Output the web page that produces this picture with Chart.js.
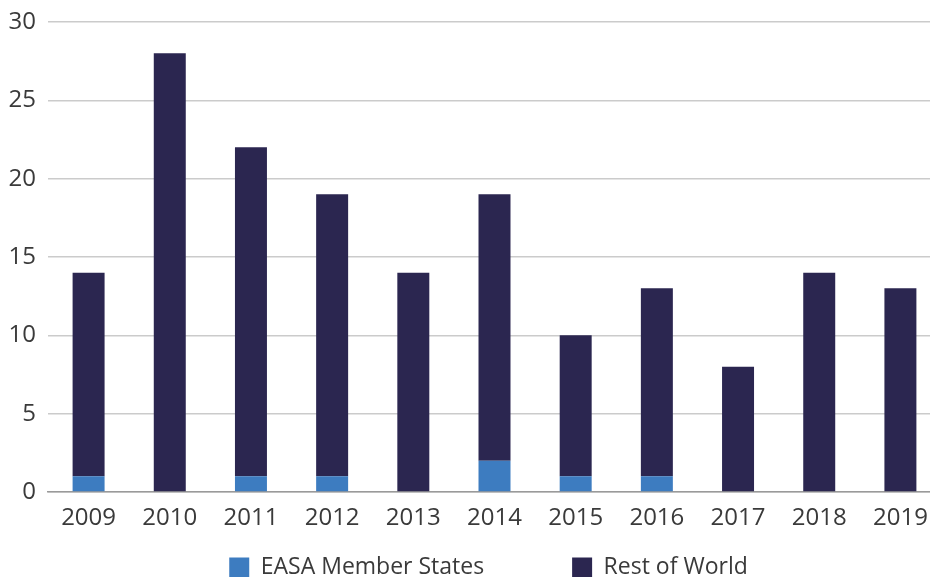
<!DOCTYPE html>
<html>
<head>
<meta charset="utf-8">
<script src="https://cdn.jsdelivr.net/npm/chart.js@4/dist/chart.umd.min.js"></script>
<style>
  html, body { margin: 0; padding: 0; background: #fff; overflow: hidden; }
  #wrap { width: 941px; height: 577px; }
</style>
</head>
<body>
<div id="wrap"><canvas id="accChart"></canvas></div>
<script>
const years = ['2009', '2010', '2011', '2012', '2013', '2014', '2015', '2016', '2017', '2018', '2019'];
const easaMembers = [1, 0, 1, 1, 0, 2, 1, 1, 0, 0, 0];
const restOfWorld = [13, 28, 21, 18, 14, 17, 9, 12, 8, 14, 13];
const yTicks = [0, 5, 10, 15, 20, 25, 30];

const textColor = '#3a3a3a';
const fontFamily = "'Open Sans', sans-serif";
const legendGap = 88;

// wide item gap pushes the legend rows down, so pull it back up and a bit right
const legendShift = {
    id: 'legendShift',
    afterLayout: chart => {
        const lg = chart.legend;
        if (!lg) return;
        lg.left += 18;
        lg.right += 18;
        lg.top -= 69;
    }
};

const ctx = document.getElementById('accChart').getContext('2d');
new Chart(ctx, {
    type: 'bar',
    plugins: [legendShift],
    data: {
        labels: years,
        datasets: [
            {
                label: 'EASA Member States',
                data: easaMembers,
                backgroundColor: '#3d7cc0',
                barPercentage: 0.394,
                categoryPercentage: 1
            },
            {
                label: 'Rest of World',
                data: restOfWorld,
                backgroundColor: '#2b2650',
                barPercentage: 0.394,
                categoryPercentage: 1
            }
        ]
    },
    options: {
        animation: false,
        responsive: true,
        maintainAspectRatio: false,
        layout: {
            padding: 0
        },
        plugins: {
            tooltip: { enabled: false },
            legend: {
                position: 'bottom',
                maxHeight: 40,
                labels: {
                    color: textColor,
                    font: { family: fontFamily, size: 23 },
                    boxWidth: 20,
                    boxHeight: 20,
                    padding: legendGap
                }
            }
        },
        scales: {
            x: {
                stacked: true,
                afterFit: scale => { scale.height = 45; },
                grid: { display: false, drawTicks: false },
                border: { display: true, color: '#9a9a9a', width: 1.5 },
                ticks: {
                    color: textColor,
                    font: { family: fontFamily, size: 24 },
                    padding: 12,
                    maxRotation: 0
                }
            },
            y: {
                stacked: true,
                min: 0,
                max: 30,
                afterFit: scale => {
                    scale.width = 48;
                    scale.paddingTop = 22;
                },
                afterBuildTicks: scale => {
                    scale.ticks = yTicks.map(v => ({ value: v }));
                },
                grid: {
                    color: '#cbcbcb',
                    lineWidth: 1.5,
                    drawTicks: false
                },
                border: { display: false },
                ticks: {
                    color: textColor,
                    font: { family: fontFamily, size: 24 },
                    padding: 12
                }
            }
        }
    }
});
</script>
</body>
</html>
